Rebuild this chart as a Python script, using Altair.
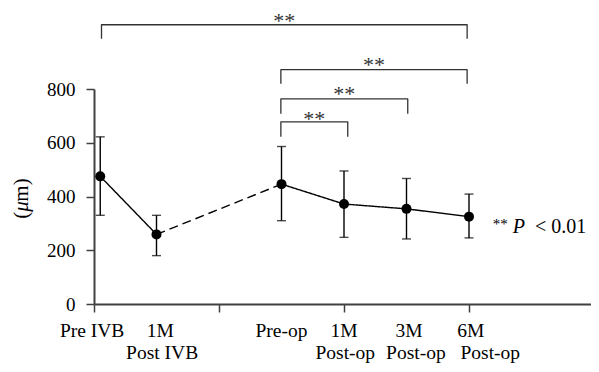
import altair as alt
import pandas as pd

# ---- data ----
pos = [0.1, 1.0, 3.0, 4.0, 5.0, 6.0]
means = [475, 259, 446, 372, 354, 325]
upper = [622, 330, 586, 495, 467, 409]
lower = [330, 180, 310, 248, 242, 246]

# category labels (two lines)
lab1_text = ["Pre IVB", "1M", "Pre-op", "1M", "3M", "6M"]
lab1_x = [-0.03, 1.06, 3.0, 4.0, 5.04, 6.03]
lab2_text = ["Post IVB", "Post-op", "Post-op", "Post-op"]
lab2_x = [1.09, 4.02, 5.15, 6.34]

# significance brackets
br_x1 = [0.12, 2.99, 2.99, 2.99]
br_x2 = [5.97, 5.97, 5.02, 4.06]
br_top = [1039, 872, 763, 678]
br_end = [987, 820, 708, 622]
br_star_y = [1073, 909, 801, 707]
br_label = ["**", "**", "**", "**"]

# p-value note
p_text = ["**", "P", "< 0.01"]
p_x = [6.38, 6.70, 7.056]
p_y = 265

# y-axis title pieces (rotated)
yt_text = ["(", "μ", "m)"]
yt_italic = [False, True, False]
yt_y = [330, 363, 424]

FONT = "Liberation Serif"
W, H = 497, 215

xs = alt.Scale(domain=[0, 8 * W / 500])
ys = alt.Scale(domain=[0, 800])

pts = pd.DataFrame({"x": pos, "m": means, "hi": upper, "lo": lower})

# line segments
seg_rows = []
groups = [("a", "solid", [0, 1]), ("b", "dashed", [1, 2]), ("c", "solid", [2, 3, 4, 5])]
for g, style, idx in groups:
    for k, i in enumerate(idx):
        seg_rows.append({"g": g, "style": style, "x": pos[i], "m": means[i], "o": k})
seg = pd.DataFrame(seg_rows)

# bracket paths
br_rows = []
for b in range(len(br_x1)):
    path = [(br_x1[b], br_end[b]), (br_x1[b], br_top[b]), (br_x2[b], br_top[b]), (br_x2[b], br_end[b])]
    for k, (xx, yy) in enumerate(path):
        br_rows.append({"b": b, "x": xx, "y": yy, "o": k})
br = pd.DataFrame(br_rows)
br_txt = pd.DataFrame({
    "x": [(a + c) / 2 for a, c in zip(br_x1, br_x2)],
    "y": br_star_y,
    "t": br_label,
})

X = alt.X("x:Q", scale=xs, axis=alt.Axis(values=[0, 2, 4, 6], labels=False, title=None,
                                          grid=False, tickSize=8))
Y = alt.Y("m:Q", scale=ys, axis=alt.Axis(values=[0, 200, 400, 600, 800], title=None,
                                          grid=False, tickSize=8, labelPadding=11))

lines = alt.Chart(seg).mark_line(color="black", strokeWidth=1.4).encode(
    x=X, y=Y, detail="g:N", order="o:Q",
    strokeDash=alt.StrokeDash("style:N", scale=alt.Scale(domain=["solid", "dashed"],
                                                         range=[[1, 0], [9, 5]]), legend=None),
)

err = alt.Chart(pts).mark_rule(color="black", strokeWidth=1.4).encode(
    x=alt.X("x:Q", scale=xs), y=alt.Y("hi:Q", scale=ys), y2="lo:Q")
cap_hi = alt.Chart(pts).mark_tick(color="black", orient="horizontal", size=9, thickness=1.4).encode(
    x=alt.X("x:Q", scale=xs), y=alt.Y("hi:Q", scale=ys))
cap_lo = alt.Chart(pts).mark_tick(color="black", orient="horizontal", size=9, thickness=1.4).encode(
    x=alt.X("x:Q", scale=xs), y=alt.Y("lo:Q", scale=ys))
dots = alt.Chart(pts).mark_point(filled=True, color="black", size=100, opacity=1).encode(
    x=alt.X("x:Q", scale=xs), y=alt.Y("m:Q", scale=ys))

brackets = alt.Chart(br).mark_line(color="#333333", strokeWidth=1.3, strokeJoin="round").encode(
    x=alt.X("x:Q", scale=xs), y=alt.Y("y:Q", scale=ys), detail="b:N", order="o:Q")
br_stars = alt.Chart(br_txt).mark_text(font=FONT, fontSize=22, color="#333333", dy=12,
                                       baseline="alphabetic").encode(
    x=alt.X("x:Q", scale=xs), y=alt.Y("y:Q", scale=ys), text="t:N")

lab1 = alt.Chart(pd.DataFrame({"x": lab1_x, "t": lab1_text, "y": [0] * len(lab1_x)})).mark_text(
    font=FONT, fontSize=19.5, color="black", baseline="alphabetic", dy=33).encode(
    x=alt.X("x:Q", scale=xs), y=alt.Y("y:Q", scale=ys), text="t:N")
lab2 = alt.Chart(pd.DataFrame({"x": lab2_x, "t": lab2_text, "y": [0] * len(lab2_x)})).mark_text(
    font=FONT, fontSize=19.5, color="black", baseline="alphabetic", dy=55).encode(
    x=alt.X("x:Q", scale=xs), y=alt.Y("y:Q", scale=ys), text="t:N")

pdf = pd.DataFrame({"x": p_x, "t": p_text, "y": [p_y] * 3})
p_star = alt.Chart(pdf.iloc[[0]]).mark_text(font=FONT, fontSize=15, color="black", align="left",
                                            baseline="alphabetic", dy=-4).encode(
    x=alt.X("x:Q", scale=xs), y=alt.Y("y:Q", scale=ys), text="t:N")
p_p = alt.Chart(pdf.iloc[[1]]).mark_text(font=FONT, fontSize=20, fontStyle="italic", color="black",
                                         align="left", baseline="alphabetic").encode(
    x=alt.X("x:Q", scale=xs), y=alt.Y("y:Q", scale=ys), text="t:N")
p_rest = alt.Chart(pdf.iloc[[2]]).mark_text(font=FONT, fontSize=20, color="black", align="left",
                                            baseline="alphabetic").encode(
    x=alt.X("x:Q", scale=xs), y=alt.Y("y:Q", scale=ys), text="t:N")

ytdf = pd.DataFrame({"t": yt_text, "it": yt_italic, "y": yt_y})
yt_norm = alt.Chart(ytdf[~ytdf["it"]]).mark_text(
    font=FONT, fontSize=21, color="black", angle=270, align="center", baseline="alphabetic").encode(
    x=alt.value(-66), y=alt.Y("y:Q", scale=ys), text="t:N")
yt_ital = alt.Chart(ytdf[ytdf["it"]]).mark_text(
    font=FONT, fontSize=21, fontStyle="italic", color="black", angle=270, align="center",
    baseline="alphabetic").encode(
    x=alt.value(-66), y=alt.Y("y:Q", scale=ys), text="t:N")

chart = alt.layer(lines, err, cap_hi, cap_lo, dots, brackets, br_stars, lab1, lab2,
                  p_star, p_p, p_rest, yt_norm, yt_ital).properties(
    width=W, height=H,
    autosize=alt.AutoSizeParams(type="none"),
    padding={"left": 86, "top": 81, "right": 0, "bottom": 60},
).configure_view(stroke=None).configure_axis(
    domainColor="#404040", domainWidth=2, tickColor="#404040", tickWidth=1.5,
    labelFont=FONT, labelFontSize=19, labelColor="black",
)

chart.save("out.html", embed_options={"renderer": "svg", "actions": False})
